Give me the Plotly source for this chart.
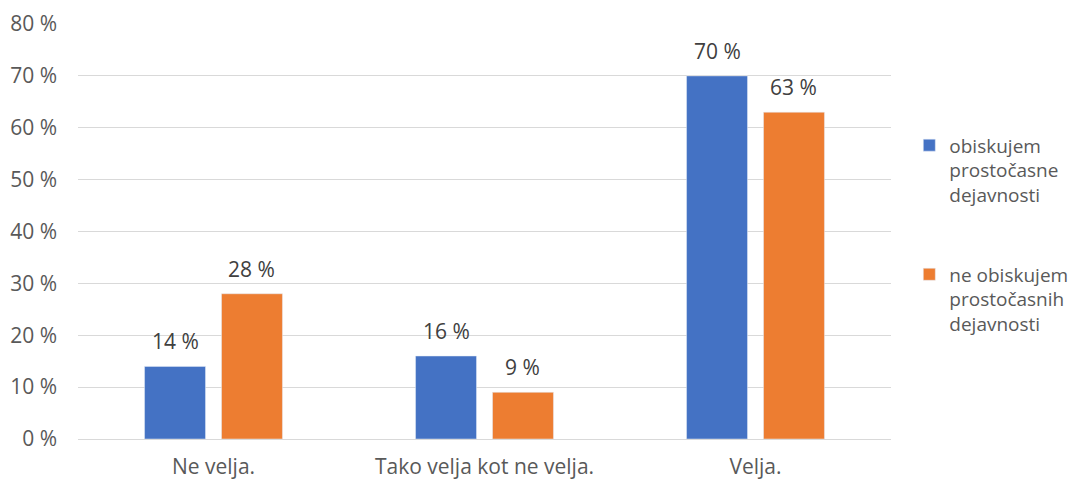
import plotly.graph_objects as go

categories = ["Ne velja.", "Tako velja kot ne velja.", "Velja."]
series_names = ["obiskujem<br>prostočasne<br>dejavnosti", "ne obiskujem<br>prostočasnih<br>dejavnosti"]
obiskujem = [14, 16, 70]
ne_obiskujem = [28, 9, 63]
colors = ["#4472C4", "#ED7D31"]
y_ticks = [0, 10, 20, 30, 40, 50, 60, 70, 80]
y_tick_labels = [f"{v} %" for v in y_ticks]

FONT = "'Open Sans', sans-serif"
GRAY = "#595959"
FS = 21
W, H = 1082, 479
ML, MR, MT, MB = 70, 199, 16, 48
BARGAP, BARGROUPGAP = 0.432, 0.208

series = [obiskujem, ne_obiskujem]
fig = go.Figure()
for i, (name, vals, col) in enumerate(zip(series_names, series, colors)):
    fig.add_trace(go.Bar(
        x=categories, y=vals, name=name, marker_color=col,
        legendgroup=f"g{i}",
    ))

# data labels placed above each bar, using the axis scales
plot_w = W - ML - MR
slot = plot_w / len(categories) * (1 - BARGAP) / len(series)
for i, vals in enumerate(series):
    xs = (i - (len(series) - 1) / 2) * slot
    for c, v in zip(categories, vals):
        fig.add_annotation(
            x=c, y=v, xref="x", yref="y", text=f"{v} %", showarrow=False,
            xshift=xs, yshift=25, yanchor="middle",
            font=dict(size=FS, color="#404040", family=FONT),
        )

fig.update_layout(
    width=W, height=H,
    margin=dict(l=ML, r=MR, t=MT, b=MB),
    paper_bgcolor="white", plot_bgcolor="white",
    barmode="group", bargap=BARGAP, bargroupgap=BARGROUPGAP,
    font=dict(family=FONT, color=GRAY, size=FS),
    legend=dict(
        xref="container", x=0.833, y=0.492, xanchor="left", yanchor="middle",
        font=dict(size=19, color=GRAY, family=FONT),
        tracegroupgap=52, itemwidth=30, valign="top",
    ),
    xaxis=dict(
        showgrid=False, showline=True, linecolor="#D9D9D9", linewidth=1.3,
        tickfont=dict(size=FS, color=GRAY), ticks="", ticklabelstandoff=9,
        automargin=False,
    ),
    yaxis=dict(
        range=[0, 80], tickvals=y_ticks, ticktext=y_tick_labels,
        showgrid=True, gridcolor="#D9D9D9", gridwidth=1.3,
        zeroline=False, showline=False, ticks="",
        tickfont=dict(size=FS, color=GRAY), ticklabelstandoff=20,
        automargin=False,
    ),
)
fig.write_html("out.html")
